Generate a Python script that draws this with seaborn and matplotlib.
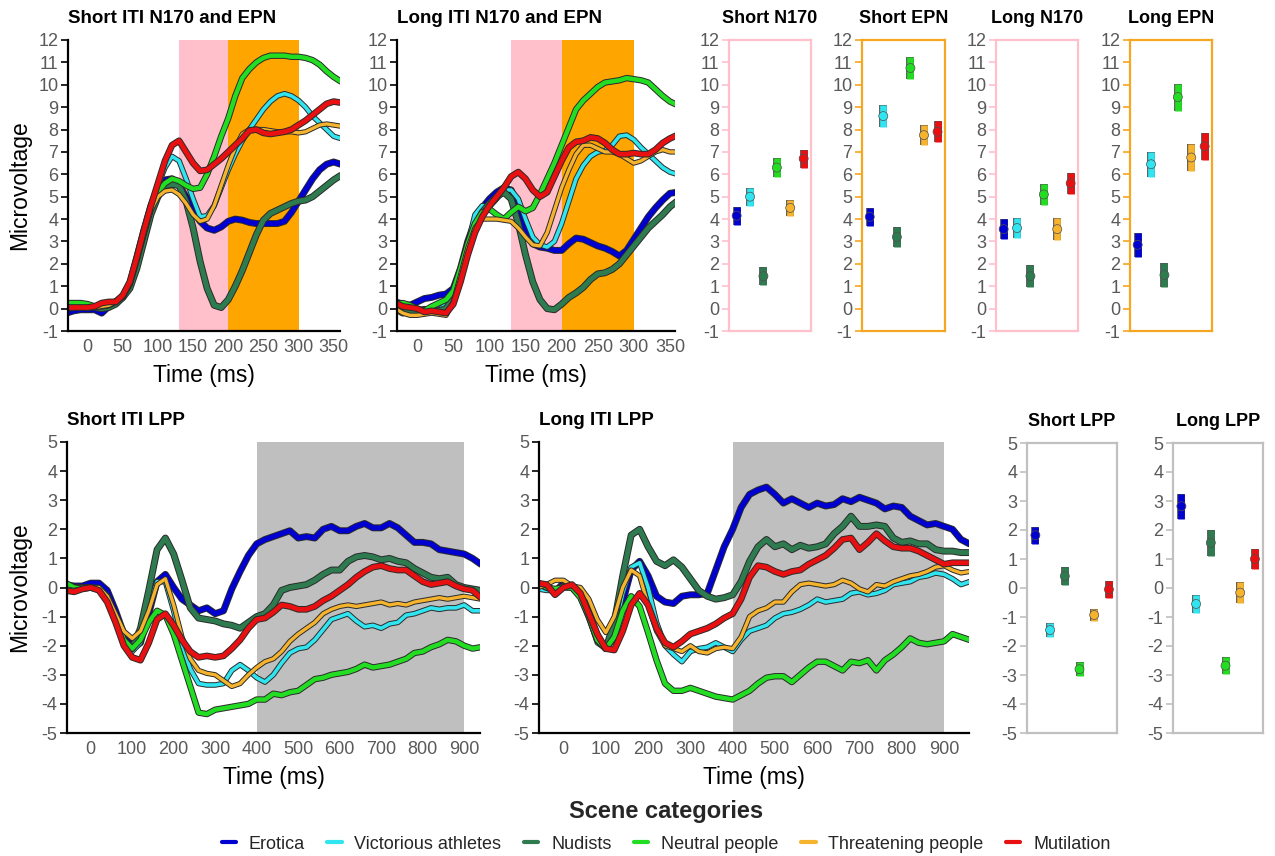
import numpy as np
import pandas as pd
import matplotlib
matplotlib.use("Agg")
import matplotlib.pyplot as plt
import matplotlib.patheffects as pe
from matplotlib.lines import Line2D
import seaborn as sns

sns.set_theme(style="white")
plt.rcParams['font.family'] = ['Liberation Sans', 'DejaVu Sans']
plt.rcParams['axes.unicode_minus'] = False

# ---------------- data ----------------
categories = ["Erotica", "Victorious athletes", "Nudists", "Neutral people",
              "Threatening people", "Mutilation"]
colors = ["#0000d0", "#30e4f0", "#2e7b50", "#22dd22", "#f5b32e", "#e81010"]

t_early = np.arange(-30, 361, 10)      # sampling grid (ms) of the N170/EPN waves
t_lpp_short = np.arange(-60, 941, 20)  # sampling grid (ms) of short-ITI LPP waves
t_lpp_long = np.arange(-60, 961, 20)   # sampling grid (ms) of long-ITI LPP waves

# Short ITI N170 and EPN
s_ero = [-0.2, -0.1, -0.05, -0.05, -0.05, -0.2, 0.1, 0.3, 0.5, 1.1, 2.3, 3.5, 4.6, 5.4, 5.75, 5.8, 5.5, 5.0, 4.4, 3.9,
         3.6, 3.5, 3.65, 3.9, 4.0, 3.95, 3.85, 3.8, 3.8, 3.8, 3.8, 3.9, 4.3, 4.8, 5.3, 5.8, 6.2, 6.45, 6.55, 6.45]
s_vic = [0.1, 0.1, 0.1, 0.05, 0.1, 0.15, 0.2, 0.35, 0.6, 1.2, 2.3, 3.5, 4.6, 5.5, 6.3, 6.8, 6.6, 5.8, 4.9, 4.1,
         4.15, 4.6, 5.4, 6.2, 6.9, 7.5, 8.0, 8.45, 8.9, 9.25, 9.5, 9.6, 9.5, 9.3, 9.0, 8.6, 8.3, 8.0, 7.7, 7.6]
s_nud = [0.1, 0.1, 0.05, 0.1, 0.05, 0.0, 0.05, 0.2, 0.5, 0.9, 1.8, 3.0, 4.2, 5.0, 5.5, 5.55, 5.5, 4.8, 3.6, 2.1,
         0.9, 0.15, 0.05, 0.4, 1.0, 1.7, 2.5, 3.3, 3.95, 4.25, 4.4, 4.55, 4.7, 4.8, 4.85, 5.0, 5.25, 5.5, 5.75, 5.95]
s_neu = [0.25, 0.25, 0.25, 0.2, 0.1, 0.1, 0.15, 0.3, 0.55, 1.1, 2.2, 3.4, 4.5, 5.2, 5.6, 5.8, 5.7, 5.5, 5.35, 5.4,
         6.0, 6.8, 7.7, 8.5, 9.5, 10.3, 10.7, 11.0, 11.2, 11.3, 11.3, 11.3, 11.25, 11.25, 11.2, 11.1, 10.9, 10.6, 10.35, 10.15]
s_thr = [0.0, 0.0, 0.05, 0.0, 0.05, 0.1, 0.15, 0.3, 0.55, 1.1, 2.2, 3.3, 4.4, 5.0, 5.25, 5.3, 5.1, 4.7, 4.2, 3.9,
         4.0, 4.6, 5.5, 6.4, 7.2, 7.8, 8.0, 8.0, 8.0, 7.95, 7.9, 7.9, 7.9, 7.85, 7.9, 8.05, 8.2, 8.25, 8.2, 8.15]
s_mut = [0.05, 0.05, 0.05, 0.05, 0.1, 0.25, 0.3, 0.3, 0.6, 1.2, 2.3, 3.5, 4.6, 5.6, 6.6, 7.3, 7.5, 7.0, 6.5, 6.15,
         6.2, 6.45, 6.7, 7.0, 7.3, 7.6, 7.95, 8.0, 7.85, 7.8, 7.85, 7.9, 8.0, 8.2, 8.4, 8.65, 8.9, 9.15, 9.25, 9.2]

# Long ITI N170 and EPN
l_ero = [0.3, 0.2, 0.15, 0.3, 0.45, 0.5, 0.6, 0.65, 0.9, 1.8, 3.0, 3.9, 4.5, 4.9, 5.2, 5.4, 5.3, 4.6, 3.6, 2.9,
         2.75, 2.7, 2.6, 2.6, 2.9, 3.15, 3.1, 2.95, 2.8, 2.7, 2.55, 2.35, 2.6, 3.1, 3.6, 4.1, 4.5, 4.85, 5.15, 5.2]
l_vic = [0.1, 0.0, -0.05, -0.1, 0.0, -0.1, -0.05, 0.2, 0.6, 1.5, 2.9, 4.2, 4.6, 4.55, 4.9, 5.3, 5.3, 4.9, 4.0, 3.2,
         2.85, 2.75, 3.0, 3.8, 4.8, 5.8, 6.4, 6.8, 7.0, 7.05, 7.3, 7.7, 7.75, 7.55, 7.2, 6.9, 6.6, 6.3, 6.1, 6.0]
l_nud = [0.0, -0.2, -0.1, -0.1, -0.05, -0.1, -0.1, 0.0, 0.5, 1.6, 2.8, 3.7, 4.3, 4.7, 5.0, 5.2, 4.9, 3.8, 2.4, 1.2,
         0.4, 0.0, -0.05, 0.2, 0.5, 0.7, 0.95, 1.3, 1.55, 1.6, 1.75, 2.0, 2.4, 2.8, 3.2, 3.6, 3.9, 4.2, 4.55, 4.8]
l_neu = [0.2, 0.25, 0.15, 0.0, -0.1, 0.1, 0.25, 0.4, 0.8, 1.8, 2.9, 3.8, 4.3, 4.45, 4.2, 4.0, 4.3, 4.55, 4.35, 4.5,
         5.1, 5.8, 6.5, 7.3, 8.1, 8.9, 9.3, 9.6, 9.9, 10.1, 10.15, 10.2, 10.3, 10.25, 10.2, 10.1, 9.8, 9.5, 9.25, 9.1]
l_thr = [0.0, -0.2, -0.3, -0.3, -0.25, -0.2, -0.25, -0.3, 0.3, 1.5, 2.7, 3.6, 4.0, 4.0, 4.0, 3.95, 3.9, 3.6, 3.2, 2.85,
         2.8, 3.4, 4.4, 5.4, 6.2, 6.9, 7.3, 7.3, 7.15, 7.0, 7.0, 6.9, 6.7, 6.5, 6.6, 6.8, 7.0, 7.1, 7.0, 7.0]
l_mut = [0.25, 0.1, 0.05, 0.0, -0.15, -0.1, -0.15, -0.2, 0.2, 1.2, 2.4, 3.4, 4.1, 4.6, 5.0, 5.4, 5.9, 6.1, 5.8, 5.3,
         5.0, 5.2, 5.9, 6.6, 7.2, 7.45, 7.5, 7.65, 7.6, 7.4, 7.1, 6.9, 6.9, 6.95, 6.9, 6.9, 7.1, 7.4, 7.6, 7.75]

# Short ITI LPP
sl_ero = [0.1, 0.05, 0.05, 0.15, 0.15, -0.1, -0.8, -1.6, -2.1, -1.9, -0.9, 0.2, 0.45, 0.0, -0.4, -0.6, -0.8, -0.7,
          -0.9, -0.8, -0.05, 0.55, 1.1, 1.5, 1.65, 1.75, 1.85, 1.95, 1.7, 1.75, 1.7, 2.0, 2.1, 1.95, 1.95, 2.1, 2.2,
          2.05, 2.05, 2.2, 2.05, 1.8, 1.55, 1.55, 1.5, 1.3, 1.25, 1.2, 1.15, 1.0, 0.8]
sl_vic = [0.0, -0.05, 0.0, 0.0, 0.0, -0.35, -1.0, -1.8, -2.2, -1.9, -0.6, 0.2, 0.2, -0.8, -2.0, -2.8, -3.3, -3.35,
          -3.35, -3.3, -2.85, -2.65, -2.85, -3.1, -3.25, -3.0, -2.6, -2.25, -2.1, -2.05, -1.8, -1.45, -1.1, -1.0, -0.9,
          -1.15, -1.35, -1.3, -1.4, -1.25, -1.2, -0.95, -0.9, -0.8, -0.7, -0.75, -0.7, -0.7, -0.6, -0.8, -0.8]
sl_nud = [0.1, 0.0, 0.0, 0.0, -0.05, -0.3, -1.0, -1.8, -2.1, -1.4, -0.1, 1.3, 1.7, 1.15, 0.25, -0.7, -1.05, -1.1,
          -1.15, -1.25, -1.3, -1.4, -1.2, -1.0, -0.9, -0.6, -0.1, 0.0, 0.05, 0.1, 0.25, 0.45, 0.6, 0.6, 0.9, 1.05, 1.1,
          1.05, 0.95, 1.0, 0.9, 0.85, 0.65, 0.5, 0.35, 0.3, 0.35, 0.1, 0.0, -0.05, -0.1]
sl_neu = [0.15, 0.0, -0.05, 0.0, -0.05, -0.4, -1.1, -1.8, -2.1, -1.8, -1.2, -0.8, -0.95, -1.6, -2.5, -3.4, -4.3, -4.35,
          -4.2, -4.15, -4.1, -4.05, -4.0, -3.85, -3.85, -3.65, -3.7, -3.6, -3.55, -3.35, -3.15, -3.1, -3.0, -2.95, -2.9,
          -2.8, -2.65, -2.75, -2.7, -2.65, -2.55, -2.45, -2.25, -2.2, -2.05, -1.95, -1.8, -1.85, -2.0, -2.1, -2.05]
sl_thr = [-0.05, -0.1, -0.05, 0.0, 0.0, -0.3, -0.9, -1.5, -1.75, -1.5, -0.8, 0.1, 0.3, -0.6, -1.7, -2.45, -2.85, -2.95,
          -3.0, -3.2, -3.4, -3.3, -3.0, -2.75, -2.55, -2.45, -2.2, -1.85, -1.6, -1.4, -1.2, -0.9, -0.75, -0.65, -0.6,
          -0.65, -0.6, -0.55, -0.5, -0.6, -0.55, -0.6, -0.5, -0.45, -0.4, -0.35, -0.4, -0.35, -0.3, -0.35, -0.4]
sl_mut = [-0.1, -0.15, -0.05, 0.0, -0.1, -0.5, -1.2, -2.0, -2.4, -2.5, -1.9, -1.1, -0.9, -1.3, -1.8, -2.2, -2.4, -2.35,
          -2.4, -2.35, -2.1, -1.8, -1.4, -1.1, -1.05, -0.85, -0.6, -0.65, -0.75, -0.75, -0.65, -0.45, -0.3, -0.1, 0.1,
          0.35, 0.55, 0.7, 0.75, 0.65, 0.6, 0.6, 0.4, 0.2, 0.1, 0.15, 0.2, 0.05, -0.05, -0.1, -0.35]

# Long ITI LPP
ll_ero = [0.1, 0.05, -0.15, 0.15, 0.05, -0.1, -0.8, -1.7, -2.1, -1.7, -0.5, 0.6, 0.9, 0.4, -0.3, -0.5, -0.55, -0.3,
          -0.25, -0.25, -0.2, 0.6, 1.4, 2.0, 2.75, 3.2, 3.35, 3.45, 3.2, 2.9, 3.05, 2.9, 2.75, 2.9, 2.8, 2.85, 3.05,
          2.95, 3.1, 3.0, 2.9, 2.7, 2.8, 2.75, 2.45, 2.3, 2.15, 2.2, 2.1, 2.0, 1.65, 1.5]
ll_vic = [-0.05, -0.1, -0.1, 0.0, 0.0, -0.3, -1.0, -1.9, -2.1, -1.5, -0.2, 0.7, 0.85, 0.0, -1.2, -2.0, -2.3, -2.55,
          -2.2, -2.1, -2.05, -1.9, -2.05, -2.2, -1.8, -1.5, -1.4, -1.3, -1.05, -0.9, -0.85, -0.75, -0.6, -0.4, -0.5,
          -0.45, -0.4, -0.2, -0.15, -0.25, -0.2, -0.1, 0.1, 0.15, 0.2, 0.35, 0.4, 0.5, 0.45, 0.3, 0.1, 0.2]
ll_nud = [0.15, 0.0, -0.1, 0.05, 0.0, -0.3, -1.0, -1.8, -2.1, -1.2, 0.4, 1.8, 2.0, 1.4, 0.9, 0.75, 0.95, 0.7, 0.3,
          -0.1, -0.3, -0.4, -0.35, -0.25, 0.2, 0.9, 1.4, 1.65, 1.4, 1.5, 1.3, 1.45, 1.35, 1.4, 1.5, 1.85, 2.1, 2.45,
          2.1, 2.1, 2.15, 2.1, 1.7, 1.55, 1.6, 1.5, 1.5, 1.3, 1.25, 1.25, 1.2, 1.2]
ll_neu = [0.15, 0.0, -0.05, 0.0, 0.0, -0.35, -1.0, -1.8, -2.1, -1.7, -0.8, -0.3, -0.65, -1.55, -2.5, -3.3, -3.55,
          -3.55, -3.45, -3.55, -3.65, -3.75, -3.8, -3.85, -3.7, -3.55, -3.3, -3.1, -3.05, -3.05, -3.25, -3.0, -2.75,
          -2.55, -2.55, -2.7, -2.85, -2.55, -2.6, -2.5, -2.85, -2.5, -2.3, -2.05, -1.75, -1.9, -1.95, -1.9, -1.85,
          -1.6, -1.7, -1.8]
ll_thr = [0.0, 0.1, 0.25, 0.25, 0.05, 0.0, -0.4, -1.1, -1.55, -1.0, 0.0, 0.6, 0.4, -0.6, -1.5, -2.0, -2.1, -2.2, -2.0,
          -2.2, -2.25, -2.1, -2.05, -2.1, -1.7, -1.0, -0.8, -0.7, -0.5, -0.5, -0.15, 0.1, 0.15, 0.1, 0.05, 0.1, 0.25,
          0.15, -0.05, -0.15, 0.1, 0.05, 0.2, 0.3, 0.4, 0.45, 0.55, 0.7, 0.75, 0.6, 0.5, 0.55]
ll_mut = [0.15, 0.1, -0.25, 0.0, 0.1, -0.2, -0.9, -1.6, -2.1, -2.15, -1.5, -0.6, -0.2, -0.6, -1.4, -1.9, -2.05, -1.85,
          -1.6, -1.5, -1.4, -1.25, -1.05, -0.9, -0.4, 0.35, 0.75, 0.7, 0.55, 0.45, 0.55, 0.6, 0.8, 0.95, 1.1, 1.35,
          1.65, 1.7, 1.3, 1.55, 1.85, 1.6, 1.4, 1.35, 1.35, 1.25, 1.1, 0.95, 0.8, 0.85, 0.85, 0.85]

# Mean amplitudes (point) and error-bar half widths
short_n170 = [4.15, 5.0, 1.45, 6.3, 4.5, 6.7]
short_n170_err = [0.4, 0.4, 0.4, 0.42, 0.37, 0.4]
short_epn = [4.1, 8.6, 3.2, 10.75, 7.75, 7.9]
short_epn_err = [0.4, 0.5, 0.45, 0.5, 0.45, 0.47]
long_n170 = [3.55, 3.6, 1.45, 5.1, 3.55, 5.6]
long_n170_err = [0.45, 0.45, 0.48, 0.47, 0.5, 0.47]
long_epn = [2.85, 6.45, 1.5, 9.45, 6.75, 7.25]
long_epn_err = [0.55, 0.55, 0.55, 0.6, 0.6, 0.6]
short_lpp = [1.82, -1.45, 0.41, -2.8, -0.93, -0.05]
short_lpp_err = [0.3, 0.25, 0.3, 0.25, 0.2, 0.3]
long_lpp = [2.82, -0.55, 1.56, -2.68, -0.16, 1.0]
long_lpp_err = [0.43, 0.3, 0.45, 0.3, 0.35, 0.35]

# ---------------- figure ----------------
W, H = 1275, 856
fig = plt.figure(figsize=(W / 100, H / 100), dpi=100)


def add_ax(x0, x1, ytop, ybot):
    return fig.add_axes([x0 / W, 1 - ybot / H, (x1 - x0) / W, (ybot - ytop) / H])


TICK_GRAY = "#595959"
line_w = [3.6, 2.6, 3.6, 3.2, 2.4, 3.4]


def wave_panel(ax, t, series, title, xlim, ylim, yticks, xticks, shades, ylabel_x):
    for x0, x1, c in shades:
        ax.axvspan(x0, x1, color=c, lw=0, zorder=0)
    df = pd.DataFrame({
        "Time": np.tile(t, len(categories)),
        "Value": np.concatenate([np.asarray(s, float) for s in series]),
        "Category": np.repeat(categories, len(t)),
    })
    sns.lineplot(data=df, x="Time", y="Value", hue="Category", hue_order=categories,
                 palette=colors, ax=ax, legend=False, errorbar=None, estimator=None, sort=False)
    for ln, lw in zip(ax.get_lines(), line_w):
        ln.set_linewidth(lw)
        ln.set_solid_capstyle("round")
        ln.set_path_effects([pe.Stroke(linewidth=lw + 1.4, foreground="#2a2a2a"), pe.Normal()])
    ax.set_xlim(*xlim)
    ax.set_ylim(*ylim)
    ax.set_yticks(yticks)
    ax.set_xticks(xticks)
    ax.set_yticklabels([str(v) for v in yticks])
    ax.set_xticklabels([str(v) for v in xticks])
    for s in ["top", "right"]:
        ax.spines[s].set_visible(False)
    for s in ["left", "bottom"]:
        ax.spines[s].set_color("black")
        ax.spines[s].set_linewidth(1.6)
    ax.tick_params(axis="y", left=True, length=5, width=1.2, color="black",
                   labelsize=13, labelcolor=TICK_GRAY, pad=2)
    ax.tick_params(axis="x", bottom=False, length=0, labelsize=13, labelcolor=TICK_GRAY, pad=6)
    ax.set_title(title, loc="left", fontsize=13.5, fontweight="bold", pad=12, color="black")
    ax.set_xlabel("Time (ms)", fontsize=16.5, color="black")
    ax.xaxis.set_label_coords(0.5, -0.115)
    if ylabel_x is not None:
        ax.set_ylabel("Microvoltage", fontsize=16.5, color="black")
        ax.yaxis.set_label_coords(ylabel_x, 0.5)
    else:
        ax.set_ylabel("")
    ax.grid(False)


def dot_panel(ax, vals, errs, title, ylim, yticks, edge):
    x = list(range(len(categories)))
    for xi, v, e, c in zip(x, vals, errs, colors):
        ax.vlines(xi, v - e, v + e, colors=c, linewidth=4.8, zorder=2,
                  path_effects=[pe.Stroke(linewidth=5.6, foreground="#505050"), pe.Normal()])
    dfp = pd.DataFrame({"x": x, "Mean": vals, "Category": categories})
    sns.scatterplot(data=dfp, x="x", y="Mean", hue="Category", hue_order=categories,
                    palette=colors, ax=ax, legend=False, s=42, marker="o",
                    edgecolor="#505050", linewidth=0.5, zorder=3)
    ax.set_xlim(-0.57, 5.55)
    ax.set_ylim(*ylim)
    ax.set_yticks(yticks)
    ax.set_yticklabels([str(v) for v in yticks])
    ax.set_xticks([])
    ax.set_xlabel("")
    ax.set_ylabel("")
    for s in ax.spines.values():
        s.set_visible(True)
        s.set_color(edge)
        s.set_linewidth(1.6)
    ax.tick_params(axis="y", left=True, length=5, width=1.2, color=edge,
                   labelsize=13, labelcolor=TICK_GRAY, pad=2)
    ax.set_title(title, fontsize=13, fontweight="bold", pad=12, color="black")
    ax.grid(False)


PINK = "#ffc0cb"
ORANGE = "#ffa500"
GRAY = "#bfbfbf"
top_y = list(range(-1, 13))
bot_y = list(range(-5, 6))

ax1 = add_ax(68, 340, 40, 331)
wave_panel(ax1, t_early, [s_ero, s_vic, s_nud, s_neu, s_thr, s_mut], "Short ITI N170 and EPN",
           (-28, 359), (-1, 12), top_y, list(range(0, 351, 50)),
           [(130, 200, PINK), (200, 300, ORANGE)], -0.135)

ax2 = add_ax(397, 675, 40, 331)
wave_panel(ax2, t_early, [l_ero, l_vic, l_nud, l_neu, l_thr, l_mut], "Long ITI N170 and EPN",
           (-28, 357), (-1, 12), top_y, list(range(0, 351, 50)),
           [(130, 200, PINK), (200, 300, ORANGE)], None)

ax3 = add_ax(67, 480, 442, 733)
wave_panel(ax3, t_lpp_short, [sl_ero, sl_vic, sl_nud, sl_neu, sl_thr, sl_mut], "Short ITI LPP",
           (-57, 938), (-5, 5), bot_y, list(range(0, 901, 100)),
           [(400, 900, GRAY)], -0.088)

ax4 = add_ax(539, 969, 442, 733)
wave_panel(ax4, t_lpp_long, [ll_ero, ll_vic, ll_nud, ll_neu, ll_thr, ll_mut], "Long ITI LPP",
           (-58, 959), (-5, 5), bot_y, list(range(0, 901, 100)),
           [(400, 900, GRAY)], None)

dot_panel(add_ax(729, 811, 40, 331), short_n170, short_n170_err, "Short N170", (-1, 12), top_y, "#ffc0cb")
dot_panel(add_ax(862, 945, 40, 331), short_epn, short_epn_err, "Short EPN", (-1, 12), top_y, "#f5a623")
dot_panel(add_ax(996, 1078, 40, 331), long_n170, long_n170_err, "Long N170", (-1, 12), top_y, "#ffc0cb")
dot_panel(add_ax(1130, 1212, 40, 331), long_epn, long_epn_err, "Long EPN", (-1, 12), top_y, "#f5a623")
dot_panel(add_ax(1027, 1117, 443, 733), short_lpp, short_lpp_err, "Short LPP", (-5, 5), bot_y, "#c0c0c0")
dot_panel(add_ax(1173, 1263, 443, 733), long_lpp, long_lpp_err, "Long LPP", (-5, 5), bot_y, "#c0c0c0")

handles = [Line2D([0], [0], color=c, lw=3) for c in colors]
leg = fig.legend(handles, categories, loc="upper center", bbox_to_anchor=(666 / W, 1 - 784 / H),
                 ncol=6, frameon=False, title="Scene categories", fontsize=13,
                 handlelength=0.8, handletextpad=0.7, columnspacing=1.25,
                 title_fontproperties={"weight": "bold", "size": 17})
leg._legend_box.sep = 9

fig.savefig("out.png", dpi=100, facecolor="white")
